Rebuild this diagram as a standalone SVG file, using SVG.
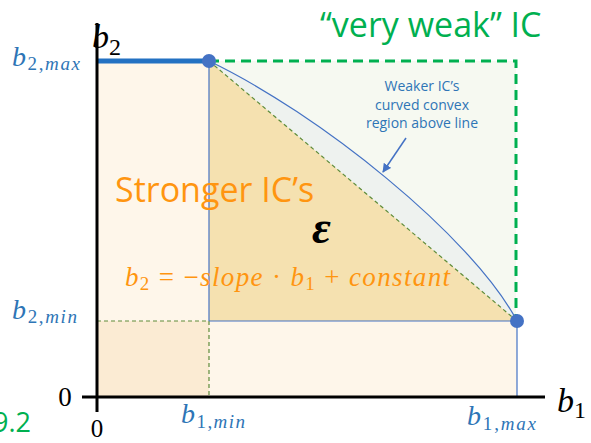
<svg xmlns="http://www.w3.org/2000/svg" width="591" height="443" viewBox="0 0 591 443">
<style>
.math{font-family:"Liberation Serif","DejaVu Serif",serif;font-style:italic}
.up{font-style:normal}
.blue{fill:#2E75B6}
.sans{font-family:"Open Sans","Noto Sans",sans-serif}
.thindash{fill:none;stroke:#5E8C3A;stroke-width:1.2;stroke-dasharray:4 3}
.thinblue{fill:none;stroke:#4472C4;stroke-width:1.2}
.dot{fill:#4472C4}
</style>
<defs>
<marker id="arr" viewBox="0 0 10 10" refX="9" refY="5" markerWidth="6" markerHeight="6" orient="auto" markerUnits="strokeWidth">
<path d="M0,0 L10,5 L0,10 z" fill="#4472C4"/>
</marker>
</defs>
<rect width="591" height="443" fill="#ffffff"/>

<g id="regions">
<rect x="209" y="61" width="307" height="260" fill="#F6F9F1"/>
<rect x="97" y="61" width="112" height="336" fill="#FEF6EA"/>
<rect x="209" y="321" width="308" height="76" fill="#FEF6EA"/>
<rect x="97" y="321" width="112" height="76" fill="#FBEBD3"/>
<path d="M209,61 C318,113 472,236 517,321 L209,321 Z" fill="#EEF2EF"/>
<path d="M209,61 L517,321 L209,321 Z" fill="#F5E1B0"/>
</g>

<g id="connectors">
<line x1="97" y1="321" x2="209" y2="321" class="thindash"/>
<line x1="209" y1="321" x2="209" y2="397" class="thindash"/>
<line x1="209" y1="61" x2="517" y2="321" class="thindash"/>
<line x1="209" y1="61" x2="209" y2="321" class="thinblue"/>
<line x1="209" y1="321" x2="517" y2="321" class="thinblue"/>
<line x1="517" y1="321" x2="517" y2="397" class="thinblue"/>
<path d="M209,61 C318,113 472,236 517,321" class="thinblue"/>
<path d="M209,61 H516 V321" fill="none" stroke="#00B050" stroke-width="3" stroke-dasharray="10 6"/>
<line x1="97" y1="61" x2="209" y2="61" stroke="#2371C2" stroke-width="5"/>
<line x1="97" y1="23" x2="97" y2="412" stroke="#000" stroke-width="3"/>
<line x1="82" y1="397" x2="545" y2="397" stroke="#000" stroke-width="3"/>
<line x1="406" y1="138" x2="383" y2="172" stroke="#4472C4" stroke-width="1.5" marker-end="url(#arr)"/>
</g>

<g id="dot-top"><circle cx="209" cy="61" r="7" class="dot"/></g>
<g id="dot-right"><circle cx="517" cy="321" r="7" class="dot"/></g>

<g id="labels">
<text x="92" y="48" class="math" font-size="34">b<tspan class="up" font-size="24" dy="7">2</tspan></text>
<text x="557" y="412" class="math" font-size="34">b<tspan class="up" font-size="24" dy="6">1</tspan></text>
<text x="12" y="66" class="math blue" font-size="28" textLength="68" lengthAdjust="spacing">b<tspan font-size="19" dy="4"><tspan class="up">2,</tspan>max</tspan></text>
<text x="12" y="319" class="math blue" font-size="28" textLength="65" lengthAdjust="spacing">b<tspan font-size="19" dy="4"><tspan class="up">2,</tspan>min</tspan></text>
<text x="181" y="423" class="math blue" font-size="28" textLength="64" lengthAdjust="spacing">b<tspan font-size="19" dy="5"><tspan class="up">1,</tspan>min</tspan></text>
<text x="467" y="425" class="math blue" font-size="28" textLength="69" lengthAdjust="spacing">b<tspan font-size="19" dy="5"><tspan class="up">1,</tspan>max</tspan></text>
<text x="65" y="406" class="math up" font-size="27" text-anchor="middle">0</text>
<text x="97" y="437" class="math up" font-size="25" text-anchor="middle">0</text>
<text x="-7" y="432" class="sans" font-size="27" fill="#00B050">9.2</text>
<text x="320" y="37" class="sans" font-size="34" fill="#00B050">“very weak” IC</text>
<text x="422" y="91" class="sans" font-size="14" fill="#2E75B6" text-anchor="middle">Weaker IC’s</text>
<text x="422" y="110" class="sans" font-size="14" fill="#2E75B6" text-anchor="middle">curved convex</text>
<text x="422" y="128" class="sans" font-size="14" fill="#2E75B6" text-anchor="middle">region above line</text>
<text x="115" y="202" class="sans" font-size="34" fill="#FF9510">Stronger IC’s</text>
<text x="312" y="243" class="math" font-size="46" font-weight="bold">ε</text>
<text x="125" y="286" class="math" font-size="27" fill="#FF9510" textLength="325" lengthAdjust="spacing">b<tspan class="up" font-size="19" dy="4">2</tspan><tspan dy="-4"> </tspan><tspan class="up">= −</tspan>slope <tspan class="up">·</tspan> b<tspan class="up" font-size="19" dy="4">1</tspan><tspan dy="-4" class="up"> + </tspan>constant</text>
</g>
</svg>
